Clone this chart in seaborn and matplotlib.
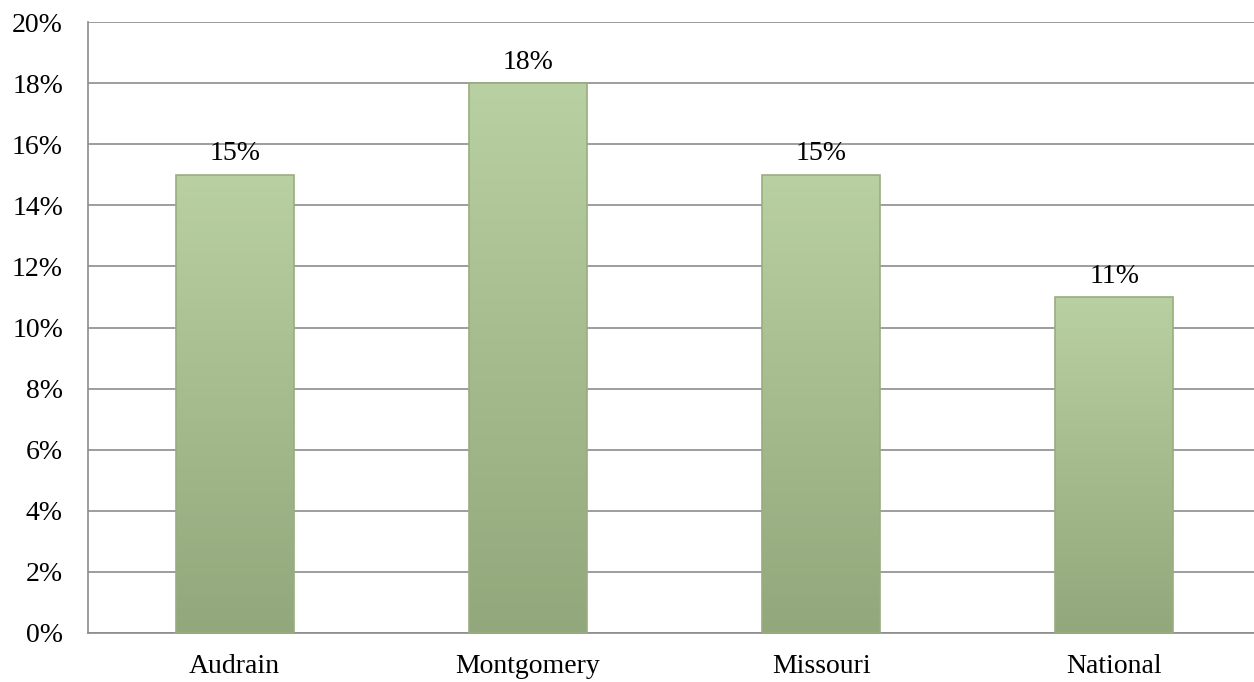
import numpy as np
import pandas as pd
import matplotlib
matplotlib.use("Agg")
import matplotlib.pyplot as plt
import seaborn as sns
from matplotlib.colors import LinearSegmentedColormap

categories = ["Audrain", "Montgomery", "Missouri", "National"]
values = [15, 18, 15, 11]
value_labels = ["15%", "18%", "15%", "11%"]
y_ticks = [0, 2, 4, 6, 8, 10, 12, 14, 16, 18, 20]

sns.set_style("white")
plt.rcParams['font.family'] = ['Liberation Serif', 'DejaVu Serif']
plt.rcParams['text.color'] = 'black'
plt.rcParams['xtick.labelcolor'] = 'black'
plt.rcParams['ytick.labelcolor'] = 'black'

df = pd.DataFrame({"region": categories, "pct": values})

fig = plt.figure(figsize=(12.54, 6.82), dpi=100)
# plot area runs a little past the right edge of the figure, as in the original
ax = fig.add_axes([88 / 1254, 1 - 633 / 682, 1173 / 1254, (633 - 22) / 682])

sns.barplot(data=df, x="region", y="pct", color="#a8bf90", width=0.402,
            edgecolor="#98ae80", linewidth=1.2, ax=ax, zorder=3)

# vertical gradient fill on each bar
grad = LinearSegmentedColormap.from_list("g", ["#92a77b", "#b9d0a2"])
for patch in ax.patches:
    x0, y0 = patch.get_x(), patch.get_y()
    w, h = patch.get_width(), patch.get_height()
    img = ax.imshow(np.linspace(0, 1, 256).reshape(-1, 1), cmap=grad, origin="lower",
                    extent=[x0, x0 + w, y0, y0 + h], aspect="auto", zorder=3.5)
    img.set_clip_path(patch)
    patch.set_zorder(4)
    patch.set_facecolor("none")

for i, (v, lab) in enumerate(zip(values, value_labels)):
    ax.annotate(lab, (i, v), xytext=(0, 6), textcoords="offset points",
                ha="center", va="bottom", fontsize=20, color="black")

ax.set_xlim(-0.5, 3.5)
ax.set_ylim(0, 20)
ax.set_yticks(y_ticks)
ax.set_yticklabels([f"{t}%" for t in y_ticks], fontsize=20)
ax.yaxis.grid(True, color="#8c8c8c", linewidth=1.2, zorder=0)
ax.set_axisbelow(True)
ax.set_xlabel("")
ax.set_ylabel("")

ax.set_xticks(range(len(categories)))
ax.set_xticklabels(categories, fontsize=20)
ax.tick_params(axis="x", length=0, pad=15)
ax.set_xticks([0.5, 1.5, 2.5], minor=True)
ax.tick_params(axis="x", which="minor", length=8, width=1.2, color="#8c8c8c", direction="out")
ax.tick_params(axis="y", length=9, width=1.2, color="#8c8c8c", direction="out", pad=9)

for s in ["top", "right"]:
    ax.spines[s].set_visible(False)
for s in ["left", "bottom"]:
    ax.spines[s].set_color("#8c8c8c")
    ax.spines[s].set_linewidth(1.2)

fig.savefig("out.png", dpi=100)
